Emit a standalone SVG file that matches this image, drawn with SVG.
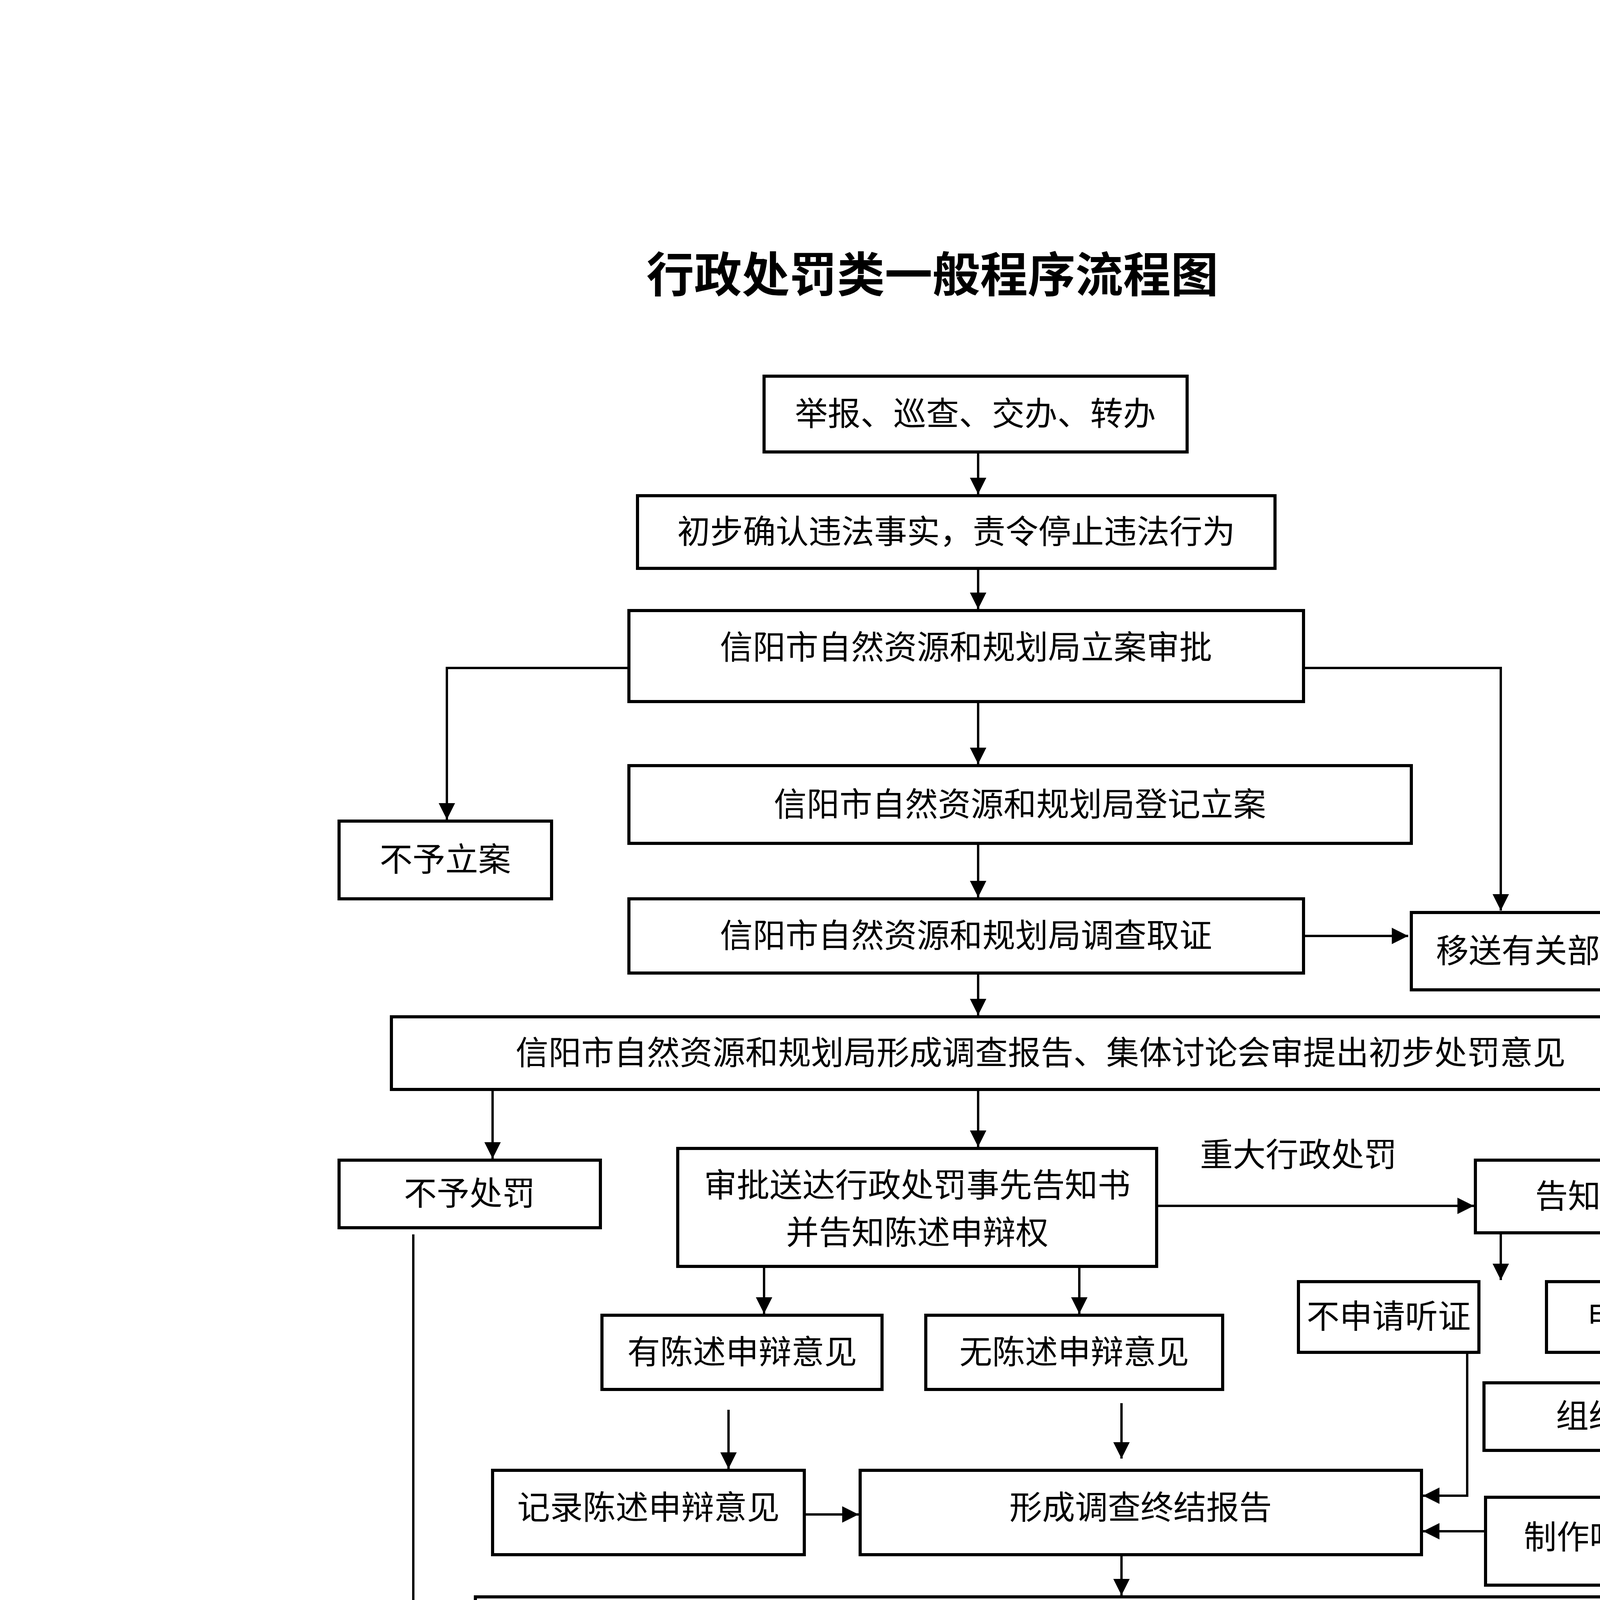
<svg xmlns="http://www.w3.org/2000/svg" width="4762" height="6735" viewBox="0 0 4762 6735">
<style>
rect{fill:#fff;stroke:#000;stroke-width:8}
text{font-family:"Liberation Serif","Noto Sans CJK SC",serif;font-size:84px;text-anchor:middle;dominant-baseline:central;fill:#000}
.t{font-size:122px;font-weight:bold}
#c path{fill:none;stroke:#000;stroke-width:6;marker-end:url(#a)}
#c path.n{marker-end:none}
</style>
<defs><marker id="a" viewBox="0 0 10 10" refX="10" refY="5" markerWidth="7" markerHeight="8" markerUnits="strokeWidth" orient="auto"><path d="M0,0L10,5L0,10z" fill="#000"/></marker></defs>
<rect x="0" y="0" width="4762" height="6735" style="stroke:none"/>
<text class="t" x="2387" y="705">行政处罚类一般程序流程图</text>
<g id="c">
<path d="M2504,1157V1265"/>
<path d="M2504,1455V1559"/>
<path d="M1610,1710H1144V2098"/>
<path d="M3337,1710H3842V2331"/>
<path d="M2504,1796V1956"/>
<path d="M2504,2159V2297"/>
<path d="M3337,2396H3605"/>
<path d="M2504,2491V2599"/>
<path d="M1261,2789V2966"/>
<path d="M2504,2789V2936"/>
<path d="M2961,3087H3773"/>
<path d="M3842,3156V3277"/>
<path d="M4196,3156V3277"/>
<path d="M4196,3462V3536"/>
<path d="M4196,3713V3829"/>
<path d="M3756,3462V3829H3643"/>
<path d="M3803,3920H3643"/>
<path d="M1956,3242V3363"/>
<path d="M2763,3242V3363"/>
<path d="M1865,3609V3760"/>
<path d="M2871,3592V3734"/>
<path d="M2059,3877H2198"/>
<path d="M2871,3980V4084"/>
<path d="M1058,3160V4524H1192"/>
<path d="M1692,4278V4412"/>
<path d="M3130,4278V4412"/>
<path d="M1671,4714V4917"/>
<path d="M3432,4714V4917"/>
<path d="M2603,5103V5215"/>
<path d="M2603,5401V5530"/>
</g>
<g id="n1"><rect x="1956" y="963" width="1083" height="194"/><text x="2497" y="1060">举报、巡查、交办、转办</text></g>
<g id="n2"><rect x="1632" y="1269" width="1632" height="186"/><text x="2448" y="1362">初步确认违法事实，责令停止违法行为</text></g>
<g id="n3"><rect x="1610" y="1563" width="1727" height="233"/><text x="2473" y="1658">信阳市自然资源和规划局立案审批</text></g>
<g id="n4"><rect x="868" y="2102" width="544" height="199"/><text x="1140" y="2201">不予立案</text></g>
<g id="n5"><rect x="1610" y="1960" width="2003" height="199"/><text x="2611" y="2060">信阳市自然资源和规划局登记立案</text></g>
<g id="n6"><rect x="1610" y="2301" width="1727" height="190"/><text x="2473" y="2396">信阳市自然资源和规划局调查取证</text></g>
<g id="n7"><rect x="3613" y="2336" width="631" height="198"/><text x="3928" y="2435">移送有关部门</text></g>
<g id="n8"><rect x="1002" y="2603" width="3324" height="186"/><text x="2664" y="2696">信阳市自然资源和规划局形成调查报告、集体讨论会审提出初步处罚意见</text></g>
<g id="n9"><rect x="868" y="2970" width="669" height="173"/><text x="1202" y="3056">不予处罚</text></g>
<g id="n10"><rect x="1735" y="2940" width="1226" height="302"/><text x="2348" y="3035">审批送达行政处罚事先告知书</text><text x="2348" y="3156">并告知陈述申辩权</text></g>
<text x="3324" y="2957">重大行政处罚</text>
<g id="n11"><rect x="3777" y="2970" width="726" height="186"/><text x="4140" y="3063">告知听证权</text></g>
<g id="n12"><rect x="3324" y="3281" width="462" height="181"/><text x="3555" y="3371">不申请听证</text></g>
<g id="n13"><rect x="3959" y="3281" width="544" height="181"/><text x="4231" y="3371">申请听证</text></g>
<g id="n14"><rect x="3799" y="3540" width="704" height="173"/><text x="4151" y="3626">组织听证</text></g>
<g id="n15"><rect x="3803" y="3833" width="700" height="225"/><text x="4153" y="3936">制作听证笔录</text></g>
<g id="n16"><rect x="1541" y="3367" width="717" height="190"/><text x="1900" y="3462">有陈述申辩意见</text></g>
<g id="n17"><rect x="2370" y="3367" width="760" height="190"/><text x="2750" y="3462">无陈述申辩意见</text></g>
<g id="n18"><rect x="1261" y="3764" width="798" height="216"/><text x="1660" y="3860">记录陈述申辩意见</text></g>
<g id="n19"><rect x="2202" y="3764" width="1437" height="216"/><text x="2920" y="3860">形成调查终结报告</text></g>
<g id="n20"><rect x="1217" y="4088" width="3286" height="190"/><text x="2860" y="4183">信阳市自然资源和规划局法规科审核</text></g>
<text x="3747" y="4334">情节复杂或重大违法行为</text>
<g id="n21"><rect x="1196" y="4416" width="980" height="298"/><text x="1686" y="4516">行政机关负责人审查，</text><text x="1686" y="4641">作出行政处罚决定</text></g>
<g id="n22"><rect x="2504" y="4416" width="1563" height="298"/><text x="3285" y="4516">行政机关负责人集体讨论，</text><text x="3285" y="4641">作出行政处罚决定</text></g>
<g id="n23"><rect x="868" y="4921" width="3544" height="182"/><text x="2640" y="5012">信阳市自然资源和规划局 7 日内送达行政处罚决定</text></g>
<g id="n24"><rect x="868" y="5219" width="3544" height="182"/><text x="2640" y="5310">执行行政处罚决定（当事人逾期不履行处罚决定的，送达催告书后，申请法院强制执行）</text></g>
<g id="n25"><rect x="1412" y="5534" width="2236" height="186"/><text x="2530" y="5627">信阳市自然资源和规划局审批结案（立卷归档）</text></g>
</svg>
